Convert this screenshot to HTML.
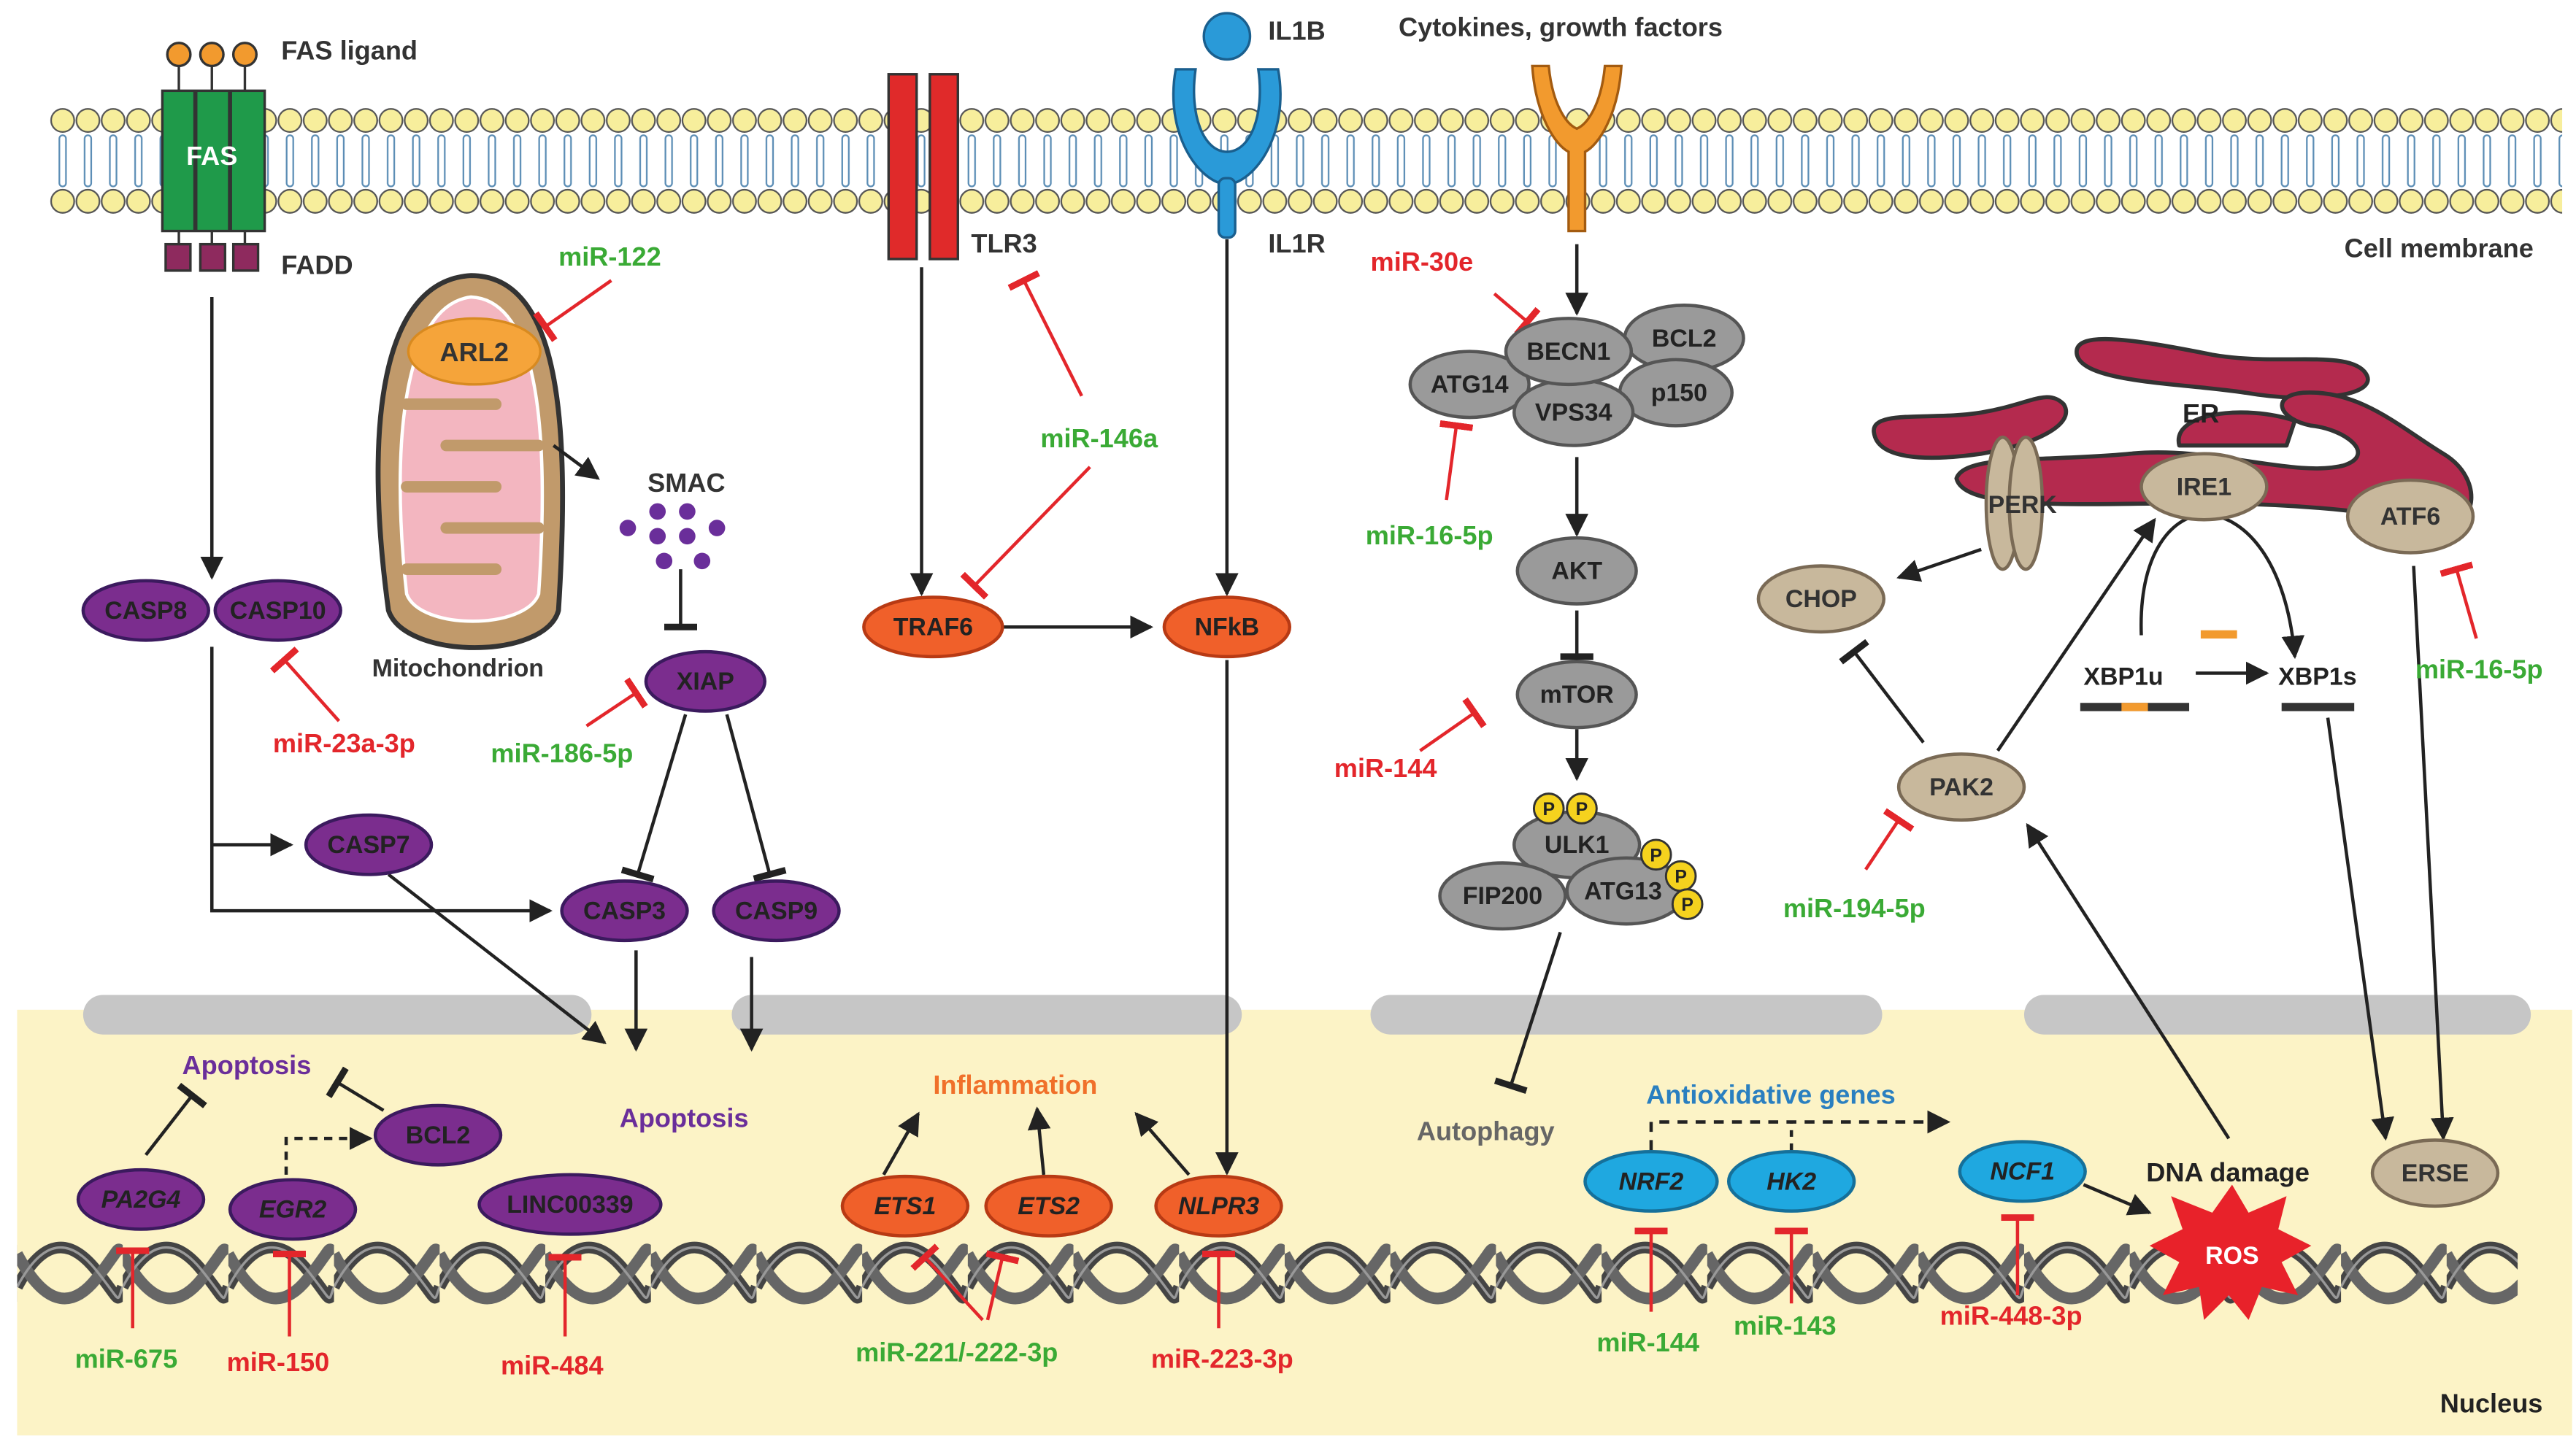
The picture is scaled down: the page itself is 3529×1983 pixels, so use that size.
<!DOCTYPE html>
<html><head><meta charset="utf-8"><style>
html,body{margin:0;padding:0;background:#fff}
svg{display:block}
text{font-family:"Liberation Sans",Arial,sans-serif;font-weight:bold}
</style></head><body>
<svg width="3529" height="1983" viewBox="0 0 1560 877" xmlns="http://www.w3.org/2000/svg">
<defs>
<pattern id="lip" x="30" y="0" width="15.3" height="877" patternUnits="userSpaceOnUse">
<rect x="5.6" y="82" width="4" height="31" rx="2" fill="none" stroke="#5b8db5" stroke-width="1"/>
<circle cx="7.6" cy="73" r="7" fill="#f7ee9c" stroke="#555" stroke-width="1"/>
<circle cx="7.6" cy="122" r="7" fill="#f7ee9c" stroke="#555" stroke-width="1"/>
</pattern>
<pattern id="dna" x="10" y="0" width="64" height="877" patternUnits="userSpaceOnUse">
<path d="M0 780 C16 750,32 750,48 770 S60 790,64 780" fill="none" stroke="#444" stroke-width="7"/>
<path d="M0 760 C16 790,32 795,48 775 S60 755,64 760" fill="none" stroke="#666" stroke-width="7"/>
<path d="M0 780 C16 750,32 750,48 770 S60 790,64 780" fill="none" stroke="#999" stroke-width="1.5"/>
</pattern>
<marker id="ar" viewBox="0 0 10 10" refX="9" refY="5" markerWidth="7" markerHeight="7" orient="auto"><path d="M0 0L10 5L0 10z" fill="#222"/></marker>
<marker id="tb" viewBox="0 0 4 20" refX="2" refY="10" markerWidth="2.5" markerHeight="10" orient="auto" markerUnits="strokeWidth"><rect x="0" y="0" width="4" height="20" fill="#222"/></marker>
<marker id="tr" viewBox="0 0 4 20" refX="2" refY="10" markerWidth="2" markerHeight="10" orient="auto" markerUnits="strokeWidth"><rect x="0" y="0" width="4" height="20" fill="#e3262b"/></marker>
</defs>

<!-- nucleus -->
<rect x="10" y="612" width="1548" height="258" fill="#fcf3c6"/>
<g fill="#c6c6c6">
<rect x="50" y="603" width="308" height="24" rx="12"/>
<rect x="443" y="603" width="309" height="24" rx="12"/>
<rect x="830" y="603" width="310" height="24" rx="12"/>
<rect x="1226" y="603" width="307" height="24" rx="12"/>
</g>
<rect x="10" y="735" width="1515" height="70" fill="url(#dna)"/>

<!-- membrane -->
<rect x="30" y="60" width="1522" height="75" fill="url(#lip)"/>

<!-- FAS -->
<g stroke="#333" stroke-width="1.5">
<line x1="108" y1="38" x2="108" y2="55"/><line x1="128" y1="38" x2="128" y2="55"/><line x1="148" y1="38" x2="148" y2="55"/>
<circle cx="108" cy="33" r="7" fill="#f29a2e"/><circle cx="128" cy="33" r="7" fill="#f29a2e"/><circle cx="148" cy="33" r="7" fill="#f29a2e"/>
<rect x="98" y="55" width="62" height="85" fill="#1f9a4a"/>
<line x1="118" y1="55" x2="118" y2="140" stroke-width="2.5"/><line x1="139" y1="55" x2="139" y2="140" stroke-width="2.5"/>
<line x1="108" y1="140" x2="108" y2="148"/><line x1="128" y1="140" x2="128" y2="148"/><line x1="148" y1="140" x2="148" y2="148"/>
<rect x="100" y="148" width="15" height="16" fill="#8e2a5e"/><rect x="121" y="148" width="15" height="16" fill="#8e2a5e"/><rect x="141" y="148" width="15" height="16" fill="#8e2a5e"/>
</g>
<text x="128" y="100" fill="#fff" font-size="16" text-anchor="middle">FAS</text>
<text x="170" y="36" font-size="16" fill="#333">FAS ligand</text>
<text x="170" y="166" font-size="16" fill="#333">FADD</text>

<!-- TLR3 -->
<rect x="538" y="45" width="17" height="112" fill="#e02a2a" stroke="#333" stroke-width="1.5"/>
<rect x="563" y="45" width="17" height="112" fill="#e02a2a" stroke="#333" stroke-width="1.5"/>
<text x="588" y="153" font-size="16" fill="#333">TLR3</text>

<!-- IL1B / IL1R -->
<circle cx="743" cy="22" r="14" fill="#2a9ad8" stroke="#1a5f8e" stroke-width="1.5"/>
<path d="M712 42 C705 80,725 110,743 112 C761 110,781 80,774 42 L762 42 C766 70,757 92,743 92 C729 92,720 70,724 42Z" fill="#2a9ad8" stroke="#1a5f8e" stroke-width="1.5"/>
<rect x="738" y="108" width="10" height="36" rx="4" fill="#2a9ad8" stroke="#1a5f8e" stroke-width="1.5"/>
<text x="768" y="24" font-size="16" fill="#333">IL1B</text>
<text x="768" y="153" font-size="16" fill="#333">IL1R</text>

<!-- Y receptor -->
<path d="M928 40 L938 40 C940 62,948 75,955 78 C962 75,970 62,972 40 L982 40 C980 70,968 88,960 92 L960 140 L950 140 L950 92 C942 88,930 70,928 40Z" fill="#f29a2e" stroke="#a35b10" stroke-width="1.5"/>
<text x="847" y="22" font-size="16" fill="#333">Cytokines, growth factors</text>
<text x="1420" y="156" font-size="16" fill="#333">Cell membrane</text>

<!-- Mitochondrion -->
<path d="M235 370 C220 260,230 170,285 167 C340 167,345 260,338 370 C330 400,245 400,235 370Z" fill="#c19a6b" stroke="#333" stroke-width="3"/>
<path d="M246 360 C236 270,244 185,285 180 C328 182,332 270,326 360 C318 382,254 382,246 360Z" fill="#f3b6c0" stroke="#fff" stroke-width="2"/>
<g stroke="#c19a6b" stroke-width="7" stroke-linecap="round" fill="none">
<path d="M246 245 L300 245"/><path d="M326 270 L270 270"/><path d="M246 295 L300 295"/><path d="M326 320 L270 320"/><path d="M246 345 L300 345"/><path d="M326 215 L300 215"/>
</g>
<ellipse cx="287" cy="213" rx="40" ry="20" fill="#f5a43a" stroke="#d88a20" stroke-width="1.5"/>
<text x="287" y="219" font-size="16" fill="#333" text-anchor="middle">ARL2</text>
<text x="225" y="410" font-size="15" fill="#333">Mitochondrion</text>

<!-- SMAC -->
<text x="392" y="298" font-size="16" fill="#333">SMAC</text>
<g fill="#6a2e9a">
<circle cx="380" cy="320" r="5"/><circle cx="398" cy="310" r="5"/><circle cx="416" cy="310" r="5"/><circle cx="398" cy="325" r="5"/><circle cx="416" cy="325" r="5"/><circle cx="434" cy="320" r="5"/><circle cx="402" cy="340" r="5"/><circle cx="425" cy="340" r="5"/>
</g>

<!-- generic lines -->
<g stroke="#222" stroke-width="2" fill="none">
<line x1="128" y1="180" x2="128" y2="350" marker-end="url(#ar)"/>
<polyline points="128,392 128,552 333,552" marker-end="url(#ar)"/>
<line x1="128" y1="512" x2="176" y2="512" marker-end="url(#ar)"/>
<line x1="335" y1="270" x2="362" y2="290" marker-end="url(#ar)"/>
<line x1="412" y1="345" x2="412" y2="380" marker-end="url(#tb)"/>
<line x1="415" y1="433" x2="386" y2="530" marker-end="url(#tb)"/>
<line x1="440" y1="433" x2="466" y2="530" marker-end="url(#tb)"/>
<line x1="385" y1="576" x2="385" y2="636" marker-end="url(#ar)"/>
<line x1="455" y1="580" x2="455" y2="636" marker-end="url(#ar)"/>
<line x1="235" y1="530" x2="366" y2="632" marker-end="url(#ar)"/>
<line x1="88" y1="700" x2="116" y2="664" marker-end="url(#tb)"/>
<line x1="232" y1="673" x2="204" y2="656" marker-end="url(#tb)"/>
<polyline points="173,712 173,690 224,690" stroke-dasharray="5,4" marker-end="url(#ar)"/>
<line x1="558" y1="162" x2="558" y2="360" marker-end="url(#ar)"/>
<line x1="607" y1="380" x2="697" y2="380" marker-end="url(#ar)"/>
<line x1="743" y1="145" x2="743" y2="360" marker-end="url(#ar)"/>
<line x1="743" y1="400" x2="743" y2="711" marker-end="url(#ar)"/>
<line x1="535" y1="712" x2="556" y2="675" marker-end="url(#ar)"/>
<line x1="632" y1="712" x2="628" y2="672" marker-end="url(#ar)"/>
<line x1="720" y1="712" x2="688" y2="675" marker-end="url(#ar)"/>
<line x1="955" y1="148" x2="955" y2="190" marker-end="url(#ar)"/>
<line x1="955" y1="277" x2="955" y2="324" marker-end="url(#ar)"/>
<line x1="955" y1="370" x2="955" y2="398" marker-end="url(#tb)"/>
<line x1="955" y1="442" x2="955" y2="472" marker-end="url(#ar)"/>
<line x1="945" y1="565" x2="915" y2="658" marker-end="url(#tb)"/>
<polyline points="1000,697 1000,680 1180,680" stroke-dasharray="6,5" marker-end="url(#ar)"/>
<line x1="1085" y1="697" x2="1085" y2="680" stroke-dasharray="4,4"/>
<line x1="1262" y1="718" x2="1302" y2="735" marker-end="url(#ar)"/>
<line x1="1350" y1="690" x2="1228" y2="500" marker-end="url(#ar)"/>
<line x1="1200" y1="333" x2="1150" y2="350" marker-end="url(#ar)"/>
<line x1="1165" y1="450" x2="1123" y2="395" marker-end="url(#tb)"/>
<line x1="1210" y1="455" x2="1305" y2="315" marker-end="url(#ar)"/>
<path d="M1297 385 C1295 330,1320 310,1338 312 C1360 314,1385 340,1390 398" marker-end="url(#ar)"/>
<line x1="1330" y1="408" x2="1373" y2="408" marker-end="url(#ar)"/>
<line x1="1410" y1="435" x2="1445" y2="690" marker-end="url(#ar)"/>
<line x1="1462" y1="343" x2="1480" y2="690" marker-end="url(#ar)"/>
</g>

<!-- miRNA red inhibitors -->
<g stroke="#e3262b" stroke-width="2" fill="none">
<line x1="370" y1="170" x2="330" y2="198" marker-end="url(#tr)"/>
<line x1="205" y1="437" x2="172" y2="400" marker-end="url(#tr)"/>
<line x1="355" y1="440" x2="385" y2="420" marker-end="url(#tr)"/>
<line x1="655" y1="240" x2="620" y2="170" marker-end="url(#tr)"/>
<line x1="660" y1="283" x2="590" y2="355" marker-end="url(#tr)"/>
<line x1="905" y1="178" x2="925" y2="195" marker-end="url(#tr)"/>
<line x1="876" y1="303" x2="882" y2="258" marker-end="url(#tr)"/>
<line x1="860" y1="455" x2="893" y2="432" marker-end="url(#tr)"/>
<line x1="1130" y1="527" x2="1150" y2="497" marker-end="url(#tr)"/>
<line x1="1500" y1="387" x2="1488" y2="345" marker-end="url(#tr)"/>
<line x1="80" y1="805" x2="80" y2="758" marker-end="url(#tr)"/>
<line x1="175" y1="810" x2="175" y2="760" marker-end="url(#tr)"/>
<line x1="342" y1="810" x2="342" y2="762" marker-end="url(#tr)"/>
<line x1="595" y1="800" x2="560" y2="762" marker-end="url(#tr)"/>
<line x1="598" y1="800" x2="607" y2="762" marker-end="url(#tr)"/>
<line x1="738" y1="805" x2="738" y2="760" marker-end="url(#tr)"/>
<line x1="1000" y1="795" x2="1000" y2="746" marker-end="url(#tr)"/>
<line x1="1085" y1="790" x2="1085" y2="746" marker-end="url(#tr)"/>
<line x1="1222" y1="785" x2="1222" y2="738" marker-end="url(#tr)"/>
</g>

<!-- purple nodes -->
<g fill="#7b2d8e" stroke="#3b1a5e" stroke-width="2">
<ellipse cx="88" cy="370" rx="38" ry="18"/><ellipse cx="168" cy="370" rx="38" ry="18"/>
<ellipse cx="223" cy="512" rx="38" ry="18"/><ellipse cx="378" cy="552" rx="38" ry="18"/><ellipse cx="470" cy="552" rx="38" ry="18"/>
<ellipse cx="427" cy="413" rx="36" ry="18"/>
<ellipse cx="85" cy="727" rx="38" ry="18"/><ellipse cx="177" cy="733" rx="38" ry="18"/><ellipse cx="345" cy="730" rx="55" ry="18"/><ellipse cx="265" cy="688" rx="38" ry="18"/>
</g>
<g font-size="15" fill="#222" text-anchor="middle">
<text x="88" y="375">CASP8</text><text x="168" y="375">CASP10</text>
<text x="223" y="517">CASP7</text><text x="378" y="557">CASP3</text><text x="470" y="557">CASP9</text>
<text x="427" y="418">XIAP</text>
<text x="85" y="732" font-style="italic">PA2G4</text><text x="177" y="738" font-style="italic">EGR2</text><text x="345" y="735">LINC00339</text><text x="265" y="693">BCL2</text>
</g>
<text x="375" y="683" font-size="16" fill="#6a2e9a">Apoptosis</text>
<text x="110" y="651" font-size="16" fill="#6a2e9a">Apoptosis</text>

<!-- orange nodes -->
<g fill="#f0602a" stroke="#b83a14" stroke-width="2">
<ellipse cx="565" cy="380" rx="42" ry="18"/><ellipse cx="743" cy="380" rx="38" ry="18"/>
<ellipse cx="548" cy="731" rx="38" ry="18"/><ellipse cx="635" cy="731" rx="38" ry="18"/><ellipse cx="738" cy="731" rx="38" ry="18"/>
</g>
<g font-size="15" fill="#222" text-anchor="middle">
<text x="565" y="385">TRAF6</text><text x="743" y="385">NFkB</text>
<g font-style="italic"><text x="548" y="736">ETS1</text><text x="635" y="736">ETS2</text><text x="738" y="736">NLPR3</text></g>
</g>
<text x="565" y="663" font-size="16" fill="#f0702a">Inflammation</text>

<!-- gray autophagy nodes -->
<g fill="#9a9a9a" stroke="#555" stroke-width="2">
<ellipse cx="1020" cy="205" rx="36" ry="20"/><ellipse cx="1015" cy="238" rx="34" ry="20"/>
<ellipse cx="890" cy="233" rx="36" ry="20"/><ellipse cx="953" cy="250" rx="36" ry="20"/><ellipse cx="950" cy="213" rx="38" ry="20"/>
<ellipse cx="955" cy="346" rx="36" ry="20"/><ellipse cx="955" cy="421" rx="36" ry="20"/>
<ellipse cx="955" cy="512" rx="38" ry="20"/><ellipse cx="910" cy="543" rx="38" ry="20"/><ellipse cx="985" cy="540" rx="36" ry="20"/>
</g>
<g font-size="15" fill="#222" text-anchor="middle">
<text x="1020" y="210">BCL2</text><text x="1017" y="243">p150</text><text x="890" y="238">ATG14</text><text x="953" y="255">VPS34</text><text x="950" y="218">BECN1</text>
<text x="955" y="351">AKT</text><text x="955" y="426">mTOR</text>
<text x="955" y="517">ULK1</text><text x="910" y="548">FIP200</text><text x="983" y="545">ATG13</text>
</g>
<g fill="#f5d21e" stroke="#333" stroke-width="1.3">
<circle cx="938" cy="490" r="9"/><circle cx="958" cy="490" r="9"/><circle cx="1003" cy="518" r="9"/><circle cx="1018" cy="531" r="9"/><circle cx="1022" cy="548" r="9"/>
</g>
<g font-size="11" fill="#222" text-anchor="middle">
<text x="938" y="494">P</text><text x="958" y="494">P</text><text x="1003" y="522">P</text><text x="1018" y="535">P</text><text x="1022" y="552">P</text>
</g>
<text x="858" y="691" font-size="16" fill="#666">Autophagy</text>

<!-- ER -->
<g fill="#b42a4e" stroke="#333" stroke-width="2.5" stroke-linejoin="round">
<path d="M1258 215 C1255 200,1290 205,1340 215 C1380 222,1420 212,1432 225 C1445 240,1400 245,1360 238 C1320 232,1262 232,1258 215Z"/>
<path d="M1135 262 C1133 248,1170 255,1200 250 C1230 245,1240 235,1250 245 C1258 258,1230 270,1200 275 C1165 280,1137 278,1135 262Z"/>
<path d="M1185 290 C1190 275,1240 280,1290 275 C1340 270,1390 290,1420 282 C1440 275,1420 260,1400 258 C1380 254,1375 240,1395 238 C1430 236,1455 260,1480 275 C1505 290,1500 320,1480 318 C1450 312,1400 305,1330 305 C1260 305,1190 310,1185 290Z"/>
<path d="M1320 270 C1315 250,1360 245,1390 255 L1385 270Z"/>
</g>
<text x="1322" y="256" font-size="16" fill="#222">ER</text>

<!-- tan nodes -->
<g fill="#c8b89c" stroke="#7a6a55" stroke-width="2">
<ellipse cx="1213" cy="305" rx="10" ry="40"/><ellipse cx="1227" cy="305" rx="10" ry="40"/>
<ellipse cx="1335" cy="295" rx="38" ry="20"/><ellipse cx="1460" cy="313" rx="38" ry="22"/>
<ellipse cx="1103" cy="363" rx="38" ry="20"/><ellipse cx="1188" cy="477" rx="38" ry="20"/>
<ellipse cx="1475" cy="711" rx="38" ry="20"/>
</g>
<g font-size="15" fill="#333" text-anchor="middle">
<text x="1225" y="311">PERK</text><text x="1335" y="300">IRE1</text><text x="1460" y="318">ATF6</text>
<text x="1103" y="368">CHOP</text><text x="1188" y="482">PAK2</text><text x="1475" y="716">ERSE</text>
</g>
<text x="1262" y="415" font-size="15" fill="#222">XBP1u</text>
<text x="1380" y="415" font-size="15" fill="#222">XBP1s</text>
<rect x="1260" y="426" width="66" height="5" fill="#333"/><rect x="1285" y="426" width="16" height="5" fill="#f29a2e"/>
<rect x="1382" y="426" width="44" height="5" fill="#333"/>
<rect x="1333" y="382" width="22" height="5" fill="#f29a2e"/>

<!-- blue nodes -->
<g fill="#1fa8e0" stroke="#15709a" stroke-width="2">
<ellipse cx="1000" cy="716" rx="40" ry="18"/><ellipse cx="1085" cy="716" rx="38" ry="18"/><ellipse cx="1225" cy="710" rx="38" ry="18"/>
</g>
<g font-size="15" fill="#222" text-anchor="middle" font-style="italic">
<text x="1000" y="721">NRF2</text><text x="1085" y="721">HK2</text><text x="1225" y="715">NCF1</text>
</g>
<text x="997" y="669" font-size="16" fill="#2a7fc0">Antioxidative genes</text>
<text x="1300" y="716" font-size="16" fill="#222">DNA damage</text>
<polygon fill="#e8222a" points="1352,718 1362,735 1385,725 1380,745 1400,755 1382,765 1392,785 1370,780 1362,800 1350,785 1335,800 1332,780 1310,785 1320,765 1302,755 1322,745 1315,725 1340,735" />
<text x="1352" y="766" font-size="15" fill="#fff" text-anchor="middle">ROS</text>

<!-- miRNA labels -->
<g font-size="16">
<text x="338" y="161" fill="#3aaa35">miR-122</text>
<text x="165" y="456" fill="#e3262b">miR-23a-3p</text>
<text x="297" y="462" fill="#3aaa35">miR-186-5p</text>
<text x="630" y="271" fill="#3aaa35">miR-146a</text>
<text x="830" y="164" fill="#e3262b">miR-30e</text>
<text x="827" y="330" fill="#3aaa35">miR-16-5p</text>
<text x="808" y="471" fill="#e3262b">miR-144</text>
<text x="1080" y="556" fill="#3aaa35">miR-194-5p</text>
<text x="1463" y="411" fill="#3aaa35">miR-16-5p</text>
<text x="45" y="829" fill="#3aaa35">miR-675</text>
<text x="137" y="831" fill="#e3262b">miR-150</text>
<text x="303" y="833" fill="#e3262b">miR-484</text>
<text x="518" y="825" fill="#3aaa35">miR-221/-222-3p</text>
<text x="697" y="829" fill="#e3262b">miR-223-3p</text>
<text x="967" y="819" fill="#3aaa35">miR-144</text>
<text x="1050" y="809" fill="#3aaa35">miR-143</text>
<text x="1175" y="803" fill="#e3262b">miR-448-3p</text>
</g>
<text x="1478" y="856" font-size="16" fill="#222">Nucleus</text>
</svg>
</body></html>
